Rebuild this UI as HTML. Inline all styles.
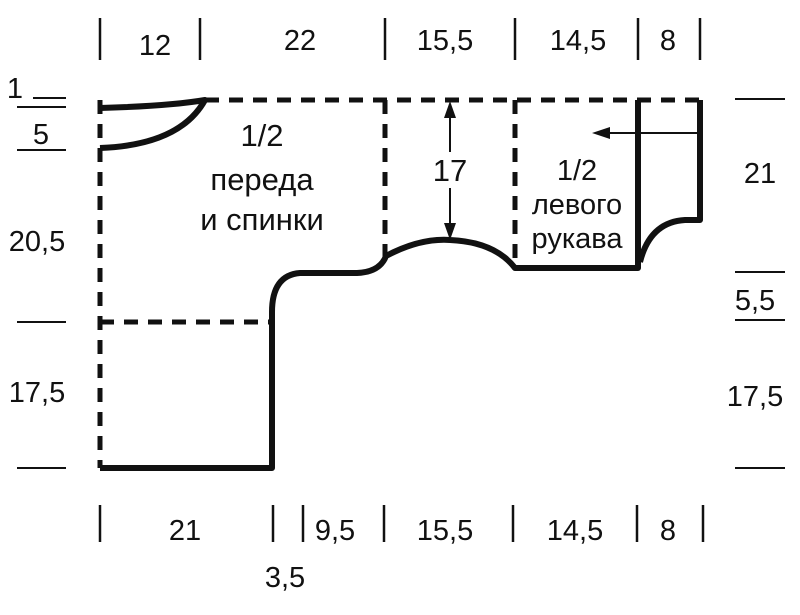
<!DOCTYPE html>
<html><head><meta charset="utf-8"><style>
html,body{margin:0;padding:0;background:#fff;}
svg{display:block}
text{font-family:"Liberation Sans Narrow","Liberation Sans",sans-serif;font-size:29px;fill:#111;}
.big{font-size:31px;}
</style></head><body>
<svg width="800" height="615" viewBox="0 0 800 615" xmlns="http://www.w3.org/2000/svg">
<g stroke="#111" stroke-width="2.5">
<line x1="100" y1="18" x2="100" y2="60"/><line x1="200" y1="18" x2="200" y2="60"/>
<line x1="385" y1="18" x2="385" y2="60"/><line x1="515" y1="18" x2="515" y2="60"/>
<line x1="638" y1="18" x2="638" y2="60"/><line x1="700" y1="18" x2="700" y2="60"/>
<line x1="100" y1="505" x2="100" y2="542"/><line x1="273" y1="505" x2="273" y2="542"/>
<line x1="303" y1="505" x2="303" y2="542"/><line x1="384" y1="505" x2="384" y2="542"/>
<line x1="513" y1="505" x2="513" y2="542"/><line x1="637" y1="505" x2="637" y2="542"/>
<line x1="703" y1="505" x2="703" y2="542"/>
</g>
<g stroke="#111" stroke-width="2">
<line x1="33" y1="98" x2="66" y2="98"/><line x1="17" y1="107" x2="66" y2="107"/>
<line x1="17" y1="150" x2="66" y2="150"/><line x1="17" y1="322" x2="66" y2="322"/>
<line x1="17" y1="468" x2="66" y2="468"/>
<line x1="735" y1="99" x2="785" y2="99"/><line x1="735" y1="272" x2="785" y2="272"/>
<line x1="735" y1="320" x2="785" y2="320"/><line x1="735" y1="468" x2="785" y2="468"/>
</g>
<g stroke="#111" stroke-width="5" stroke-dasharray="14,10" fill="none">
<line x1="205" y1="100" x2="700" y2="100"/>
<line x1="100" y1="100" x2="100" y2="468"/>
<line x1="385" y1="100" x2="385" y2="258"/>
<line x1="515" y1="100" x2="515" y2="268"/>
<line x1="100" y1="322" x2="272" y2="322"/>
</g>
<g stroke="#111" stroke-width="6" fill="none" stroke-linejoin="round">
<path d="M100,108 Q170,106 205,100 Q180,145 100,148"/>
<path d="M100,468 H272 V312 Q272,275 300,273 H357 Q380,272 386,256 Q420,238 450,240 Q495,242 515,268 H638 V100"/>
<path d="M700,100 V220 H685 Q650,222 640,262"/>
</g>
<g stroke="#111" stroke-width="2" fill="#111">
<line x1="700" y1="133" x2="605" y2="133"/>
<polygon points="592,133 610,127 610,139" stroke="none"/>
<line x1="450" y1="110" x2="450" y2="152"/>
<line x1="450" y1="188" x2="450" y2="230"/>
<polygon points="450,101 444,118 456,118" stroke="none"/>
<polygon points="450,240 444,223 456,223" stroke="none"/>
</g>
<g text-anchor="middle">
<text x="155" y="55">12</text><text x="300" y="50">22</text>
<text x="445" y="50">15,5</text><text x="578" y="50">14,5</text><text x="668" y="50">8</text>
<text x="185" y="540">21</text><text x="335" y="540">9,5</text><text x="445" y="540">15,5</text>
<text x="575" y="540">14,5</text><text x="668" y="540">8</text><text x="285" y="587">3,5</text>
<text x="15" y="98">1</text><text x="41" y="144">5</text>
<text x="37" y="251">20,5</text><text x="37" y="402">17,5</text>
<text x="760" y="183">21</text><text x="755" y="310">5,5</text><text x="755" y="406">17,5</text>
<text x="450" y="181" class="big">17</text>
<text x="262" y="146" class="big">1/2</text><text x="262" y="190" class="big">переда</text><text x="262" y="230" class="big">и спинки</text>
<text x="577" y="180">1/2</text><text x="577" y="214">левого</text><text x="577" y="248">рукава</text>
</g>
</svg>
</body></html>
